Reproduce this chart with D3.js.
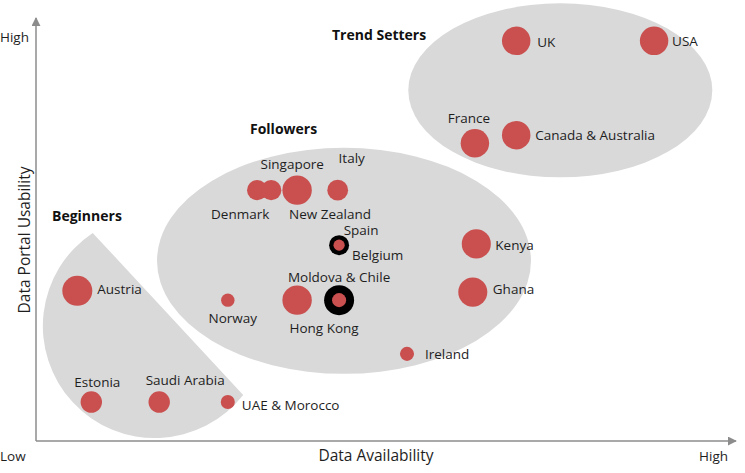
<!DOCTYPE html>
<html><head><meta charset="utf-8">
<script src="https://cdn.jsdelivr.net/npm/d3@7/dist/d3.min.js"></script>
<style>body{margin:0;background:#fff}svg{display:block}text{font-family:"Open Sans",sans-serif}</style>
</head><body><div id="chart"></div>
<script>
// ---- data (availability 0-10, usability 0-10, size index) ----
const countries = ["UK","USA","France","Canada & Australia","Denmark","Singapore","New Zealand","Italy","Spain & Belgium","Moldova & Chile","Hong Kong","Norway","Kenya","Ghana","Ireland","Austria","Estonia","Saudi Arabia","UAE & Morocco"];
const availability = [6.86,8.83,6.27,6.86,3.16,3.36,3.73,4.31,4.33,3.73,4.33,2.74,6.29,6.24,5.30,0.59,0.79,1.76,2.74];
const usability    = [9.46,9.46,7.04,7.23,5.93,5.93,5.93,5.93,4.63,3.33,3.33,3.33,4.66,3.52,2.06,3.55,0.92,0.92,0.92];
const sizeIndex    = [90,90,90,90,46,46,96,48,14,96,22,20,94,94,22,100,51,51,22];
const highlighted  = ["Spain & Belgium","Hong Kong"];
const groups = ["Trend Setters","Followers","Beginners"];
const axisTicks = ["Low","High"];
const axisTitles = ["Data Availability","Data Portal Usability"];

// ---- layout ----
const W = 745, H = 473;
const x = d3.scaleLinear().domain([0,10]).range([36,736]);
const y = d3.scaleLinear().domain([0,10]).range([441,18]);
const r = d3.scaleSqrt().domain([0,100]).range([0,15]);
const red = "#c9504f", grey = "#d9d9d9", axisCol = "#8c8c8c", txt = "#1e1e1e";

// label placements: [dx, dy, anchor]
const labelPos = {
  "UK":[21,1,"start"],"USA":[18,0,"start"],"France":[-6,-25,"middle"],"Canada & Australia":[19,0,"start"],
  "Denmark":[-17,24,"middle"],"Singapore":[21,-26,"middle"],"New Zealand":[33,24,"middle"],"Italy":[14,-32,"middle"],
  "Spain":[22,-15,"middle"],"Belgium":[13,10,"start"],"Moldova & Chile":[42,-23,"middle"],"Hong Kong":[-15,28,"middle"],
  "Norway":[5,18,"middle"],"Kenya":[19,1,"start"],"Ghana":[20,-3,"start"],"Ireland":[18,0,"start"],
  "Austria":[20,-2,"start"],"Estonia":[6,-20,"middle"],"Saudi Arabia":[26,-22,"middle"],"UAE & Morocco":[14,3,"start"]
};

const svg = d3.select("#chart").append("svg").attr("width",W).attr("height",H);

// group shapes
svg.append("ellipse").attr("cx",x(7.49)).attr("cy",y(8.29)).attr("rx",152).attr("ry",87).attr("fill",grey);
svg.append("ellipse").attr("cx",x(4.4)).attr("cy",y(4.26)).attr("rx",187).attr("ry",113).attr("fill",grey);
// beginners: circle segment cut by a chord
const p1 = [x(0.81), y(4.92)], p2 = [x(2.96), y(1.09)];
svg.append("path").attr("d",`M${p1[0]},${p1[1]} A112,112 0 1 0 ${p2[0]},${p2[1]} Z`).attr("fill",grey);

// group titles
const gTitle = [[groups[0],332,40],[groups[1],250,134],[groups[2],52,221]];
svg.selectAll(".gt").data(gTitle).join("text").attr("class","gt")
  .attr("x",d=>d[1]).attr("y",d=>d[2]).text(d=>d[0])
  .attr("font-size",14).attr("font-weight","bold").attr("fill","#111");

// axes
const defs = svg.append("defs");
defs.append("marker").attr("id","arr").attr("viewBox","0 0 10 10").attr("refX",9).attr("refY",5)
  .attr("markerWidth",6).attr("markerHeight",6).attr("orient","auto")
  .append("path").attr("d","M0,0L10,5L0,10Z").attr("fill",axisCol);
svg.append("line").attr("x1",x(0)).attr("y1",y(0)).attr("x2",x(10)).attr("y2",y(0))
  .attr("stroke",axisCol).attr("stroke-width",1.5).attr("marker-end","url(#arr)");
svg.append("line").attr("x1",x(0)).attr("y1",y(0)).attr("x2",x(0)).attr("y2",y(10))
  .attr("stroke",axisCol).attr("stroke-width",1.5).attr("marker-end","url(#arr)");

svg.append("text").attr("x",0).attr("y",461).text(axisTicks[0]).attr("font-size",13.5).attr("fill",txt);
svg.append("text").attr("x",728).attr("y",461).attr("text-anchor","end").text(axisTicks[1]).attr("font-size",13.5).attr("fill",txt);
svg.append("text").attr("x",0).attr("y",42).text(axisTicks[1]).attr("font-size",13.5).attr("fill",txt);
svg.append("text").attr("x",376).attr("y",461).attr("text-anchor","middle").text(axisTitles[0]).attr("font-size",15.5).attr("fill",txt);
svg.append("text").attr("transform",`translate(30,240) rotate(-90)`).attr("text-anchor","middle")
  .text(axisTitles[1]).attr("font-size",15.5).attr("fill",txt);

// points
const pts = countries.map((c,i)=>({name:c,x:availability[i],y:usability[i],s:sizeIndex[i],hl:highlighted.includes(c)}));
svg.selectAll(".ring").data(pts.filter(d=>d.hl)).join("circle").attr("class","ring")
  .attr("cx",d=>x(d.x)).attr("cy",d=>y(d.y)).attr("r",d=>d.name==="Hong Kong"?15:10).attr("fill","#000");
svg.selectAll(".pt").data(pts).join("circle").attr("class","pt")
  .attr("cx",d=>x(d.x)).attr("cy",d=>y(d.y)).attr("r",d=>r(d.s)).attr("fill",red);

// labels
const labels = [];
pts.forEach(d=>{
  const names = d.name==="Spain & Belgium" ? ["Spain","Belgium"] : [d.name];
  names.forEach(n=>labels.push({n, px:x(d.x), py:y(d.y)}));
});
svg.selectAll(".lb").data(labels).join("text").attr("class","lb")
  .attr("x",d=>d.px+labelPos[d.n][0]).attr("y",d=>d.py+labelPos[d.n][1])
  .attr("dy","0.35em").attr("text-anchor",d=>labelPos[d.n][2])
  .text(d=>d.n).attr("font-size",13.5).attr("fill",txt);
</script></body></html>
